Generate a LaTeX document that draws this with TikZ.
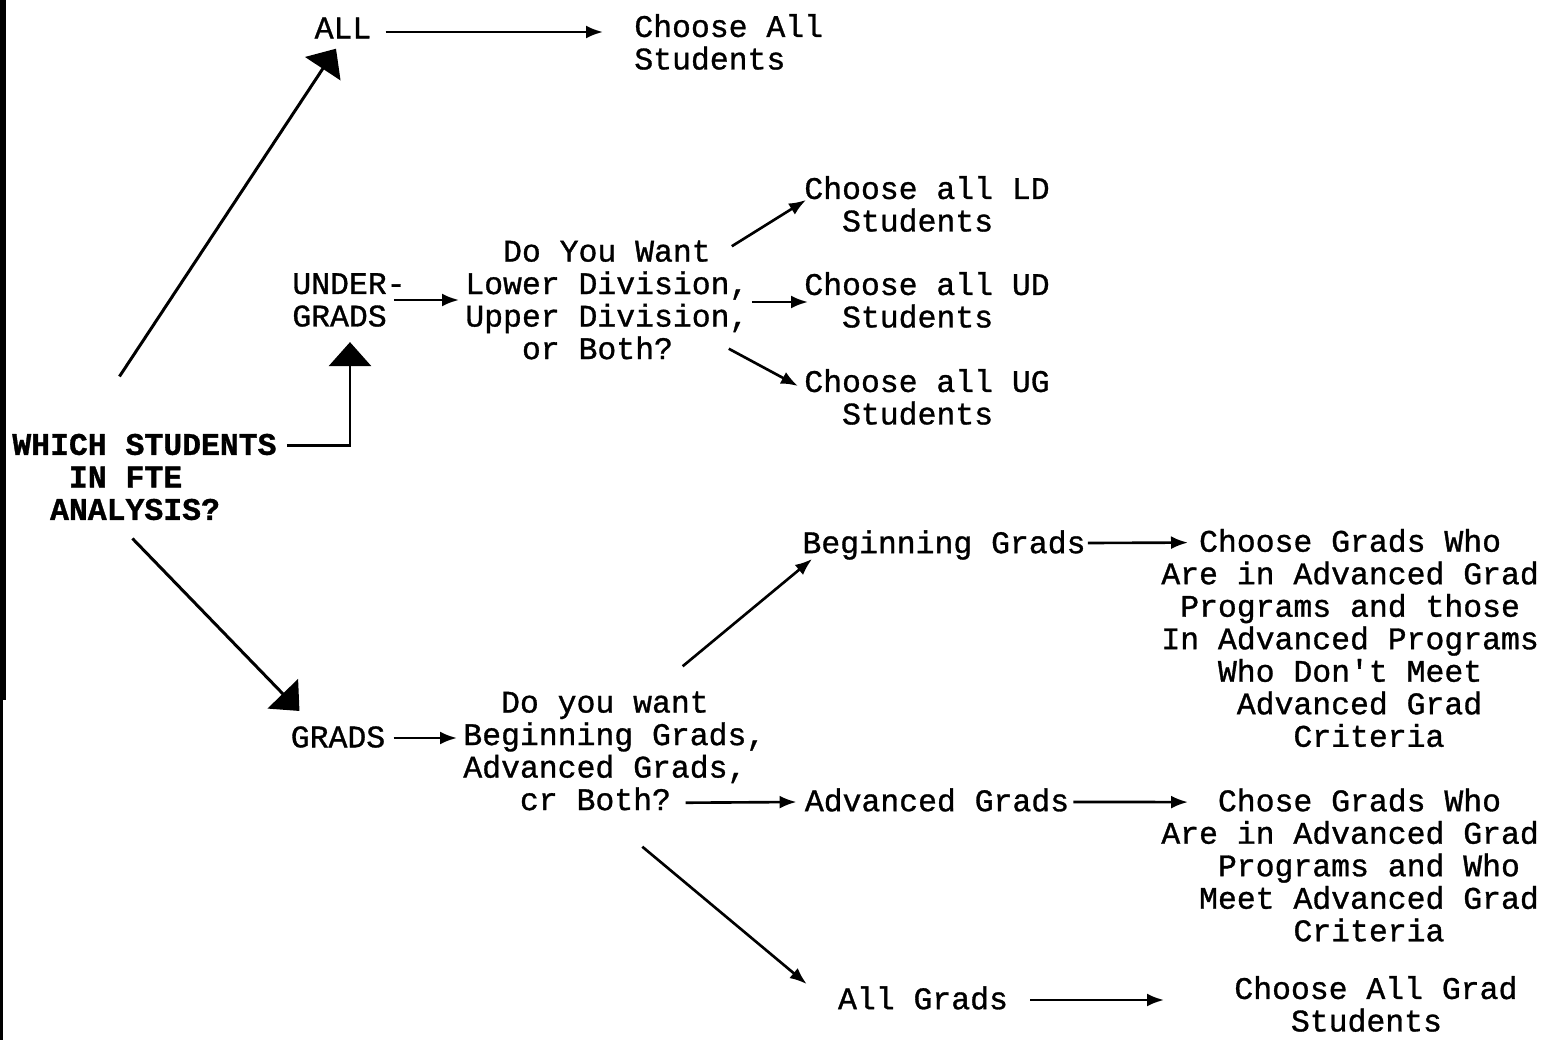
\documentclass[tikz,border=0pt]{standalone}
\usepackage{fontspec}
\newfontfamily\typewriter[FakeBold=1]{Liberation Mono}
\usetikzlibrary{arrows.meta,calc}

\begin{document}
\begin{tikzpicture}[x=0.02cm,y=-0.02cm,
    lbl/.style={inner sep=0pt,align=left,font=\typewriter\fontsize{17.9}{18.5}\selectfont},
    lblbold/.style={lbl,font=\typewriter\bfseries\fontsize{17.9}{18.5}\selectfont},
    smallarr/.style={line width=1.5pt,-{Latex[length=0.34cm,width=0.26cm]}},
    bigarr/.style={line width=1.7pt,-{Triangle[length=0.48cm,width=0.84cm]}}]
\useasboundingbox (0,0) rectangle (1543,1040);
% edge of the scanned page
\fill (0,0) rectangle (6,700);
\fill (0,700) rectangle (3,1040);

\node[lblbold,anchor=west] (which) at (12,477) {WHICH STUDENTS\\\hphantom{xxx}IN FTE\\\hphantom{xx}ANALYSIS?};
\node[lbl] (all) at (343,28) {ALL};
\node[lbl,anchor=west] (chall) at (634,42) {Choose All\\Students};
\node[lbl,anchor=west] (under) at (292,300) {UNDER-\\GRADS};
\node[lbl] (grads) at (338,737) {GRADS};

% undergraduate branch
\node[lbl,anchor=west] (dyw) at (465,300) {\hphantom{xx}Do You Want\\Lower Division,\\Upper Division,\\\hphantom{xxx}or Both?};
\node[lbl,anchor=west] (ld) at (804,204) {Choose all LD\\\hphantom{xx}Students};
\node[lbl,anchor=west] (ud) at (804,300) {Choose all UD\\\hphantom{xx}Students};
\node[lbl,anchor=west] (ug) at (804,397) {Choose all UG\\\hphantom{xx}Students};

% graduate branch
\node[lbl,anchor=west] (dyw2) at (463,751) {\hphantom{xx}Do you want\\Beginning Grads,\\Advanced Grads,\\\hphantom{xxx}cr Both?};
\node[lbl] (beg) at (944,545) {Beginning Grads};
\node[lbl] (adv) at (937,800) {Advanced Grads};
\node[lbl] (allg) at (923,998) {All Grads};
\node[lbl,anchor=west] (chbeg) at (1161,638) {\hphantom{xx}Choose Grads Who\\Are in Advanced Grad\\\hphantom{x}Programs and those\\In Advanced Programs\\\hphantom{xxx}Who Don't Meet\\\hphantom{xxxx}Advanced Grad\\\hphantom{xxxxxxx}Criteria};
\node[lbl,anchor=west] (chadv) at (1161,865) {\hphantom{xxx}Chose Grads Who\\Are in Advanced Grad\\\hphantom{xxx}Programs and Who\\\hphantom{xx}Meet Advanced Grad\\\hphantom{xxxxxxx}Criteria};
\node[lbl,anchor=west] (challg) at (1234,1004) {Choose All Grad\\\hphantom{xxx}Students};

% big arrows out of the question
\draw[bigarr] ($(which.north)+(-25,-57)$) -- ($(all.south)+(-7,10)$);
\draw[bigarr] ($(which.north east)+(10,12)$) -| ($(under.south west)+(58,15)$);
\draw[bigarr] ($(which.south)+(-12,18)$) -- ($(grads.north west)+(9,-15)$);

% small arrows
\draw[smallarr] ($(all.east)+(14,4)$) -- ($(chall.west)+(-31,-10)$);
\draw[smallarr] ($(under.east)+(-12,0)$) -- ($(dyw.west)+(-6,0)$);
\draw[smallarr] ($(dyw.north east)+(-17,6)$) -- ($(ld.west)+(2,-4)$);
\draw[smallarr] ($(dyw.east)+(3,2)$) -- ($(ud.west)+(4,2)$);
\draw[smallarr] ($(dyw.south east)+(-20,-11)$) -- ($(ug.west)+(-6,-11)$);
\draw[smallarr] ($(grads.east)+(8,1)$) -- ($(dyw2.west)+(-6,-13)$);
\draw[smallarr] ($(dyw2.north east)+(-83,-25)$) -- ($(beg.south west)+(10,-1)$);
\draw[smallarr] ($(dyw2.south east)+(-80,-8)$) -- ($(adv.west)+(-8,2)$);
\draw[smallarr] ($(dyw2.south)+(28,36)$) -- ($(allg.north west)+(-31,-2)$);
\draw[smallarr] ($(beg.east)+(2,-2)$) -- ($(chbeg.north west)+(27,14)$);
\draw[smallarr] ($(adv.east)+(4,2)$) -- ($(chadv.north west)+(27,14)$);
\draw[smallarr] ($(allg.east)+(22,2)$) -- ($(challg.west)+(-70,-4)$);
\end{tikzpicture}
\end{document}
